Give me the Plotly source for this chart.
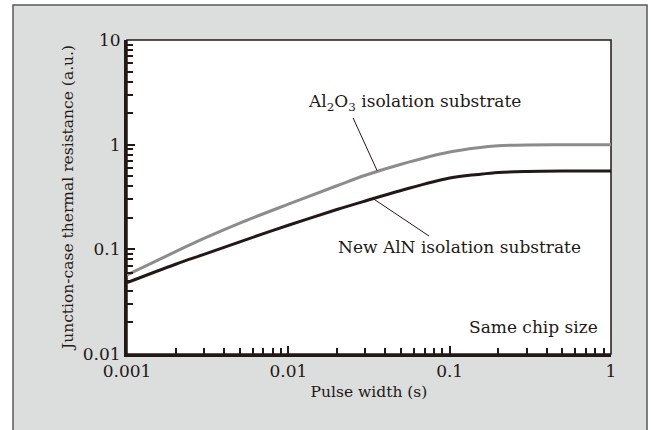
import numpy as np
import plotly.graph_objects as go

# Data
pulse_width = [0.001, 0.002, 0.003, 0.005, 0.01, 0.02, 0.03, 0.05, 0.1, 0.15, 0.2, 0.3, 0.5, 1.0]
al2o3 = [0.057, 0.095, 0.127, 0.178, 0.27, 0.405, 0.51, 0.65, 0.85, 0.935, 0.975, 0.995, 1.0, 1.0]
aln = [0.048, 0.072, 0.0895, 0.118, 0.17, 0.24, 0.29, 0.365, 0.48, 0.52, 0.543, 0.555, 0.56, 0.56]

x_ticks = [0.001, 0.01, 0.1, 1]
x_ticktext = ["0.001", "0.01", "0.1", "1"]
y_ticks = [0.01, 0.1, 1, 10]
y_ticktext = ["0.01", "0.1", "1", "10"]

# leader lines (data coordinates)
lead_al2o3_x = [0.0252, 0.0355]
lead_al2o3_y = [1.80, 0.565]
lead_aln_x = [0.033, 0.0745]
lead_aln_y = [0.31, 0.134]

INK = "#231815"
FONT = "DejaVu Serif"

def minor_vals(lo_exp, hi_exp):
    return [m * 10.0 ** e for e in range(lo_exp, hi_exp) for m in range(2, 10)]

fig = go.Figure()
fig.add_trace(go.Scatter(x=pulse_width, y=al2o3, mode="lines",
                         line=dict(color="#8c8c8c", width=3, shape="spline", smoothing=1.0),
                         hoverinfo="skip", showlegend=False))
fig.add_trace(go.Scatter(x=pulse_width, y=aln, mode="lines",
                         line=dict(color=INK, width=3, shape="spline", smoothing=1.0),
                         hoverinfo="skip", showlegend=False))
fig.add_trace(go.Scatter(x=lead_al2o3_x, y=lead_al2o3_y, mode="lines",
                         line=dict(color=INK, width=1), hoverinfo="skip", showlegend=False))
fig.add_trace(go.Scatter(x=lead_aln_x, y=lead_aln_y, mode="lines",
                         line=dict(color=INK, width=1), hoverinfo="skip", showlegend=False))

L, R, T, B = 127, 611, 40, 354
W, H = 651, 430
pw, ph = R - L, B - T

def px(xp):
    return (xp - L) / pw

def py(yp):
    return (B - yp) / ph

ANN = 17
TICK = 17
TITLE = 15.5

fig.update_layout(
    width=W, height=H,
    margin=dict(l=L, r=W - R, t=T, b=H - B, pad=0),
    paper_bgcolor="white",
    plot_bgcolor="rgba(0,0,0,0)",
    font=dict(family=FONT, size=15, color=INK),
    shapes=[
        dict(type="rect", xref="paper", yref="paper", x0=px(13), x1=px(647), y0=py(440), y1=py(5),
             fillcolor="#dcdddd", line=dict(color="#5a5a5a", width=1.5), layer="below"),
        dict(type="rect", xref="paper", yref="paper", x0=0, x1=1, y0=0, y1=1,
             fillcolor="white", line=dict(color=INK, width=1.5), layer="below"),
    ],
    annotations=[
        dict(xref="paper", yref="paper", x=px(414), y=py(103), xanchor="center", yanchor="middle",
             text="Al<sub>2</sub>O<sub>3</sub> isolation substrate", showarrow=False,
             font=dict(size=ANN, family=FONT, color=INK)),
        dict(xref="paper", yref="paper", x=px(459), y=py(247), xanchor="center", yanchor="middle",
             text="New AlN isolation substrate", showarrow=False,
             font=dict(size=ANN, family=FONT, color=INK)),
        dict(xref="paper", yref="paper", x=px(600), y=py(327), xanchor="right", yanchor="middle",
             text="Same chip size", showarrow=False,
             font=dict(size=ANN, family=FONT, color=INK)),
    ],
)

fig.update_xaxes(type="log", range=[-3, 0], tickvals=x_ticks, ticktext=x_ticktext,
                 ticks="inside", ticklen=8, tickwidth=1.5, tickcolor=INK,
                 showline=True, linewidth=3, linecolor=INK, showgrid=False, zeroline=False,
                 minor=dict(tickvals=minor_vals(-3, 0), ticks="inside", ticklen=6,
                            tickwidth=1.5, tickcolor=INK, showgrid=False),
                 tickfont=dict(size=TICK, family=FONT, color=INK),
                 title=dict(text="Pulse width (s)", font=dict(size=TITLE, family=FONT, color=INK), standoff=6))
fig.update_yaxes(type="log", range=[-2, 1], tickvals=y_ticks, ticktext=y_ticktext,
                 ticks="inside", ticklen=8, tickwidth=1.5, tickcolor=INK,
                 showline=True, linewidth=3, linecolor=INK, showgrid=False, zeroline=False,
                 minor=dict(tickvals=minor_vals(-2, 1), ticks="inside", ticklen=6,
                            tickwidth=1.5, tickcolor=INK, showgrid=False),
                 tickfont=dict(size=TICK, family=FONT, color=INK),
                 title=dict(text="Junction-case thermal resistance (a.u.)",
                            font=dict(size=TITLE, family=FONT, color=INK), standoff=6))

fig.write_html("out.html", config={"displayModeBar": False},
               post_script="document.body.style.margin='0';")
